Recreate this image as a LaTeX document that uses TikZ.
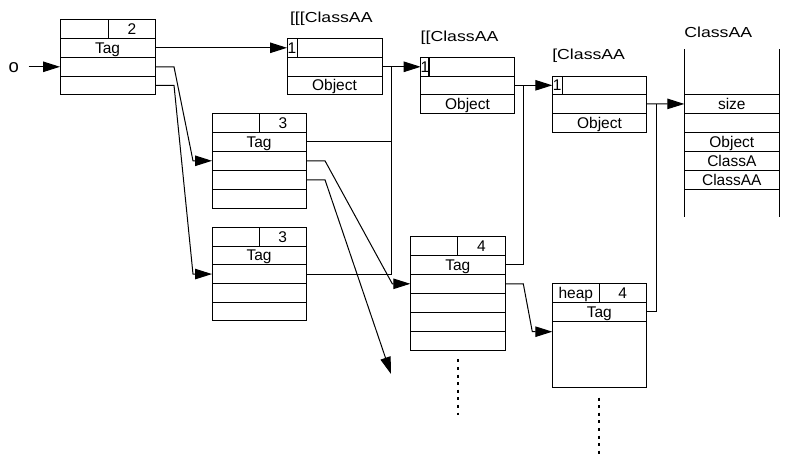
\documentclass[tikz,border=0pt]{standalone}
\usepackage{fontspec}
\setmainfont{Liberation Sans}
\newfontfamily\titlefam{Liberation Sans}[FakeStretch=1.22]
\usetikzlibrary{arrows.meta}
\tikzset{
  cell/.style={draw, line width=1pt, inner sep=0pt, outer sep=0pt, anchor=north west,
    minimum height=19pt, text height=11pt, text depth=0pt,
    font=\fontsize{15.5}{16}\selectfont},
  title/.style={inner sep=0pt, outer sep=0pt, anchor=west, text height=10.4pt, text depth=0pt,
    font=\titlefam\fontsize{14.5}{15}\selectfont},
  conn/.style={line width=1pt},
  arr/.style={line width=1pt, -{Triangle[length=17pt,width=10.5pt]}},
  dotline/.style={line width=2pt, dash pattern=on 3pt off 4.6pt},
}
\begin{document}
\begin{tikzpicture}[x=1pt,y=-1pt]
\useasboundingbox (0,0) rectangle (798,455);

% box A (2)
\node[cell, minimum width=48.7pt] (A1a) at (60,19.3) {};
\node[cell, minimum width=46.3pt] (A1b) at (108.7,19.3) {2};
\node[cell, minimum width=95pt] (A2) at (60,38.3) {Tag};
\node[cell, minimum width=95pt] (A3) at (60,57.3) {};
\node[cell, minimum width=95pt, minimum height=18pt] (A4) at (60,76.3) {};

% box P  [[[ClassAA
\node[title] (Pt) at (290,17.7) {[[[ClassAA};
\node[cell, minimum width=10pt] (P1a) at (287,38.3) {1};
\node[cell, minimum width=85pt] (P1b) at (297,38.3) {};
\node[cell, minimum width=95pt] (P2) at (287,57.3) {};
\node[cell, minimum width=95pt, minimum height=18pt] (P3) at (287,76.3) {Object};

% box Q  [[ClassAA
\node[title] (Qt) at (420.7,36.2) {[[ClassAA};
\node[cell, minimum width=8pt] (Q1a) at (420.7,57.3) {1};
\node[cell, minimum width=85.6pt] (Q1b) at (428.7,57.3) {};
\node[cell, minimum width=93.6pt, minimum height=18pt] (Q2) at (420.7,76.3) {};
\node[cell, minimum width=93.6pt] (Q3) at (420.7,94.3) {Object};

% box R  [ClassAA
\node[title] (Rt) at (552.3,54.2) {[ClassAA};
\node[cell, minimum width=9.7pt, minimum height=18pt] (R1a) at (552.3,76.3) {1};
\node[cell, minimum width=84.7pt, minimum height=18pt] (R1b) at (562,76.3) {};
\node[cell, minimum width=94.4pt] (R2) at (552.3,94.3) {};
\node[cell, minimum width=94.4pt] (R3) at (552.3,113.3) {Object};

% table ClassAA
\node[title] (Tt) at (684.3,32.3) {ClassAA};
\node[cell, minimum width=95pt, minimum height=19.3pt] (T1) at (684.3,94.3) {size};
\node[cell, minimum width=95pt, minimum height=18.7pt] (T2) at (684.3,113.6) {};
\node[cell, minimum width=95pt, minimum height=19.3pt] (T3) at (684.3,132.3) {Object};
\node[cell, minimum width=95pt, minimum height=18.7pt] (T4) at (684.3,151.6) {ClassA};
\node[cell, minimum width=95pt, minimum height=19pt] (T5) at (684.3,170.3) {ClassAA};
\draw[conn] (T1.north west) -- ++(0,-45.3);
\draw[conn] (T1.north east) -- ++(0,-45.3);
\draw[conn] (T5.south west) -- ++(0,28);
\draw[conn] (T5.south east) -- ++(0,28);

% box B (upper 3)
\node[cell, minimum width=47.7pt] (B1a) at (212,113.3) {};
\node[cell, minimum width=46.3pt] (B1b) at (259.7,113.3) {3};
\node[cell, minimum width=94pt] (B2) at (212,132.3) {Tag};
\node[cell, minimum width=94pt] (B3) at (212,151.3) {};
\node[cell, minimum width=94pt] (B4) at (212,170.3) {};
\node[cell, minimum width=94pt] (B5) at (212,189.3) {};

% box C (lower 3)
\node[cell, minimum width=47.3pt, minimum height=18.7pt] (C1a) at (212,227.3) {};
\node[cell, minimum width=46.7pt, minimum height=18.7pt] (C1b) at (259.3,227.3) {3};
\node[cell, minimum width=94pt, minimum height=18.7pt] (C2) at (212,246) {Tag};
\node[cell, minimum width=94pt, minimum height=18.7pt] (C3) at (212,264.7) {};
\node[cell, minimum width=94pt, minimum height=18.7pt] (C4) at (212,283.4) {};
\node[cell, minimum width=94pt, minimum height=18.7pt] (C5) at (212,302.1) {};

% box D (4)
\node[cell, minimum width=47.4pt] (D1a) at (410.3,236.3) {};
\node[cell, minimum width=47.6pt] (D1b) at (457.7,236.3) {4};
\node[cell, minimum width=95pt] (D2) at (410.3,255.3) {Tag};
\node[cell, minimum width=95pt] (D3) at (410.3,274.3) {};
\node[cell, minimum width=95pt] (D4) at (410.3,293.3) {};
\node[cell, minimum width=95pt] (D5) at (410.3,312.3) {};
\node[cell, minimum width=95pt] (D6) at (410.3,331.3) {};

% box E (heap 4)
\node[cell, minimum width=47pt] (E1a) at (552.3,283.3) {heap};
\node[cell, minimum width=47pt] (E1b) at (599.3,283.3) {4};
\node[cell, minimum width=94pt] (E2) at (552.3,302.3) {Tag};
\node[cell, minimum width=94pt, minimum height=65.7pt] (E3) at (552.3,321.3) {};

% o
\node[inner ysep=0pt, inner xsep=9.5pt, text height=9.5pt, text depth=0pt, font=\fontsize{18.5}{19}\selectfont] (o) at (13.7,67.5) {o};

% connectors
\draw[arr] (o.east |- A3.west) -- (A3.west);
\draw[arr] (A2.east) -- (P1a.west);
\draw[arr] (A3.east) -- ++(19,0) -- ([xshift=-19pt]B3.west) -- (B3.west);
\draw[arr] (A4.east) -- ++(19,0) -- ([xshift=-19pt]C3.west) -- (C3.west);

\draw[arr] (P2.east) -- (Q1a.west);
\coordinate (bus1) at ([xshift=9pt]P2.east);
\draw[conn] (C3.east) -| (bus1);
\draw[conn] (B2.east) -- (B2.east -| bus1);
\draw[arr] (B3.east) -- ++(19,0) -- ([xshift=-18pt]D3.west) -- (D3.west);
\coordinate (free) at (391,374);
\draw[arr] (B4.east) -- ++(19,0) -- (free);

\draw[arr] (Q2.east) -- (R1a.west);
\coordinate (bus2) at ([xshift=9.5pt]Q2.east);
\draw[conn] (D2.east) -| (bus2);
\draw[arr] (D3.east) -- ++(18,0) -- ([xshift=-20pt,yshift=-10.4pt]E3.north west) -- ([yshift=-10.4pt]E3.north west);

\draw[arr] (R2.east) -- (T1.west);
\coordinate (bus3) at ([xshift=9.5pt]R2.east);
\draw[conn] (E2.east) -| (bus3);

% continuation dots
\draw[dotline] ([yshift=-9pt]D6.south) -- ++(0,56);
\draw[dotline] ([yshift=-10.5pt]E3.south) -- ++(0,58);
\end{tikzpicture}
\end{document}
